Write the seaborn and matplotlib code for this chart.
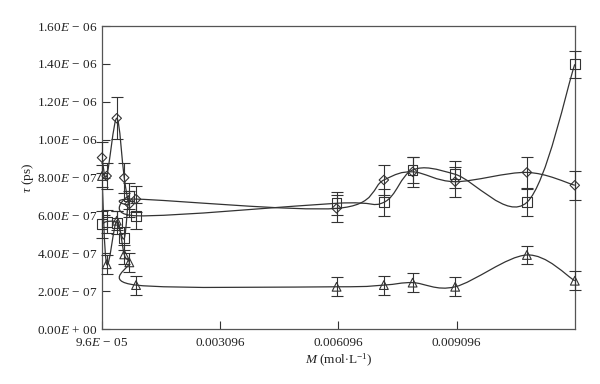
"""
Relaxation time vs concentration, three series with smoothed curves.
"""

import numpy as np
import matplotlib
matplotlib.use("Agg")
import matplotlib.pyplot as plt
from matplotlib.path import Path
from matplotlib.patches import PathPatch
from matplotlib.ticker import FixedLocator, FuncFormatter
import seaborn as sns

# concentration (mol/L), shared by the three series
conc = [0.000096, 0.000215, 0.00047, 0.00066, 0.00079, 0.00096,
        0.00605, 0.00725, 0.00798, 0.00906, 0.01088, 0.012096]

# tau values (s) and error bars
tau_diamond = [0.905e-6, 0.808e-6, 1.113e-6, 0.799e-6, 0.660e-6, 0.686e-6,
               0.637e-6, 0.787e-6, 0.830e-6, 0.778e-6, 0.827e-6, 0.759e-6]
err_diamond = [0.08e-6, 0.07e-6, 0.11e-6, 0.08e-6, 0.07e-6, 0.07e-6,
               0.07e-6, 0.08e-6, 0.08e-6, 0.08e-6, 0.08e-6, 0.077e-6]

tau_square = [0.553e-6, 0.567e-6, 0.561e-6, 0.479e-6, 0.702e-6, 0.598e-6,
              0.664e-6, 0.669e-6, 0.840e-6, 0.817e-6, 0.669e-6, 1.398e-6]
err_square = [0.07e-6, 0.06e-6, 0.06e-6, 0.06e-6, 0.07e-6, 0.07e-6,
              0.06e-6, 0.07e-6, 0.07e-6, 0.07e-6, 0.07e-6, 0.07e-6]

tau_triangle = [0.808e-6, 0.342e-6, 0.572e-6, 0.394e-6, 0.352e-6, 0.232e-6,
                0.223e-6, 0.232e-6, 0.245e-6, 0.223e-6, 0.391e-6, 0.255e-6]
err_triangle = [0.06e-6, 0.05e-6, 0.05e-6, 0.05e-6, 0.05e-6, 0.05e-6,
                0.05e-6, 0.05e-6, 0.05e-6, 0.05e-6, 0.05e-6, 0.05e-6]

x_ticks = [0.000096, 0.003096, 0.006096, 0.009096]
x_tick_labels = [r"9.6$E$ $-$ 05", "0.003096", "0.006096", "0.009096"]
y_ticks = [0.0, 0.2e-6, 0.4e-6, 0.6e-6, 0.8e-6, 1.0e-6, 1.2e-6, 1.4e-6, 1.6e-6]


def y_label_fmt(v, pos):
    if v == 0:
        return r"0.00$E$ + 00"
    exp = int(np.floor(np.log10(abs(v)) + 1e-9))
    mant = v / 10 ** exp
    return r"%.2f$E$ $-$ %02d" % (mant, -exp)


def smooth_path(x, y):
    """Excel-like smoothed line: cubic Bezier segments, Catmull-Rom tangents."""
    pts = np.column_stack([x, y])
    n = len(pts)
    verts = [tuple(pts[0])]
    codes = [Path.MOVETO]
    for i in range(n - 1):
        p_prev = pts[i - 1] if i > 0 else pts[i]
        p_next = pts[i + 2] if i + 2 < n else pts[i + 1]
        c1 = pts[i] + (pts[i + 1] - p_prev) / 6.0
        c2 = pts[i + 1] - (p_next - pts[i]) / 6.0
        verts += [tuple(c1), tuple(c2), tuple(pts[i + 1])]
        codes += [Path.CURVE4] * 3
    return Path(verts, codes)


sns.set_style("ticks")
plt.rcParams["font.family"] = ["Liberation Serif", "DejaVu Serif"]
plt.rcParams["mathtext.fontset"] = "custom"
plt.rcParams["mathtext.rm"] = "Liberation Serif"
plt.rcParams["mathtext.it"] = "Liberation Serif:italic"
plt.rcParams["mathtext.bf"] = "Liberation Serif:bold"

fig = plt.figure(figsize=(6, 3.84), dpi=100)
ax = fig.add_axes([0.170, 0.1432, 0.788, 0.789])

line_color = "#333333"
series = [
    (tau_diamond, err_diamond, "D", 4.8),
    (tau_square, err_square, "s", 7.0),
    (tau_triangle, err_triangle, "^", 6.3),
]
for tau, err, marker, size in series:
    ax.add_patch(PathPatch(smooth_path(conc, tau), facecolor="none",
                           edgecolor=line_color, lw=0.9, zorder=2))
    ax.errorbar(conc, tau, yerr=err, fmt="none", ecolor=line_color,
                elinewidth=0.8, capsize=4, capthick=0.8, zorder=3,
                clip_on=False)
    sns.scatterplot(x=conc, y=tau, marker=marker, s=size ** 2,
                    facecolor="none", edgecolor=line_color, linewidth=0.8,
                    ax=ax, zorder=4, clip_on=False)

ax.set_xlim(0.000096, 0.012096)
ax.set_ylim(0, 1.6e-6)
ax.xaxis.set_major_locator(FixedLocator(x_ticks))
ax.set_xticklabels(x_tick_labels)
ax.yaxis.set_major_locator(FixedLocator(y_ticks))
ax.yaxis.set_major_formatter(FuncFormatter(y_label_fmt))
ax.tick_params(direction="in", length=6, width=0.8, colors=line_color,
               labelcolor="#222222", labelsize=9.5)
ax.tick_params(axis="x", pad=6)
for sp in ax.spines.values():
    sp.set_visible(True)
    sp.set_color("#555555")
    sp.set_linewidth(0.9)

ax.set_xlabel(r"$M$ (mol$\cdot$L$^{-1}$)", fontsize=9.5, labelpad=2,
              color="#222222")
ax.set_ylabel(r"$\tau$ (ps)", fontsize=9.5, color="#222222", va="center")
ax.yaxis.set_label_coords(-0.157, 0.5)

fig.savefig("out.png", dpi=100)
